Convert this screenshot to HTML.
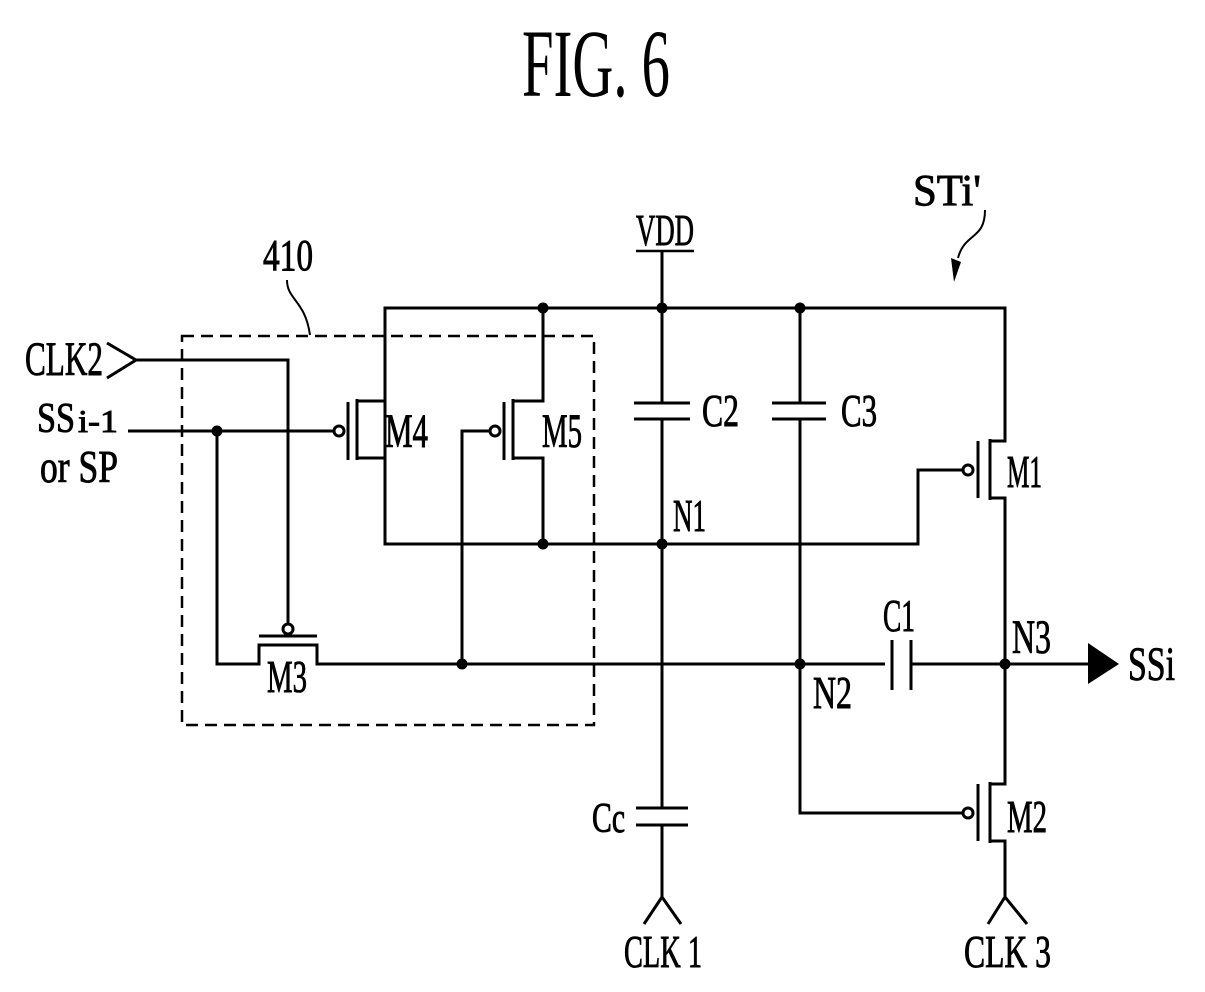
<!DOCTYPE html>
<html><head><meta charset="utf-8"><style>
html,body{margin:0;padding:0;background:#fff;}
svg{display:block;}
text{font-family:"Liberation Serif",serif;fill:#000;}
.l{stroke:#000;stroke-width:0.9;}
</style></head><body>
<svg width="1205" height="992" viewBox="0 0 1205 992" xmlns="http://www.w3.org/2000/svg">
<text x="522" y="96" font-size="96" textLength="148" lengthAdjust="spacingAndGlyphs">FIG. 6</text>

<g class="l">
<text x="913" y="205" font-size="44" textLength="68" lengthAdjust="spacingAndGlyphs">STi'</text>
<text x="263" y="270" font-size="44" textLength="50" lengthAdjust="spacingAndGlyphs">410</text>
<text x="636" y="245" font-size="44" textLength="58" lengthAdjust="spacingAndGlyphs">VDD</text>
<text x="25" y="375" font-size="48" textLength="78" lengthAdjust="spacingAndGlyphs">CLK2</text>
<text x="37" y="432" font-size="42" textLength="38" lengthAdjust="spacingAndGlyphs">SS</text>
<text x="78" y="432" font-size="32" textLength="40" lengthAdjust="spacingAndGlyphs">i-1</text>
<text x="40" y="482" font-size="46" textLength="78" lengthAdjust="spacingAndGlyphs">or SP</text>
<text x="385" y="447" font-size="48" textLength="43" lengthAdjust="spacingAndGlyphs">M4</text>
<text x="542" y="447" font-size="48" textLength="40" lengthAdjust="spacingAndGlyphs">M5</text>
<text x="267" y="692" font-size="46" textLength="40" lengthAdjust="spacingAndGlyphs">M3</text>
<text x="702" y="426" font-size="46" textLength="37" lengthAdjust="spacingAndGlyphs">C2</text>
<text x="841" y="426" font-size="46" textLength="36" lengthAdjust="spacingAndGlyphs">C3</text>
<text x="1007" y="487" font-size="46" textLength="35" lengthAdjust="spacingAndGlyphs">M1</text>
<text x="673" y="531" font-size="46" textLength="33" lengthAdjust="spacingAndGlyphs">N1</text>
<text x="883" y="631" font-size="46" textLength="32" lengthAdjust="spacingAndGlyphs">C1</text>
<text x="1012" y="653" font-size="48" textLength="39" lengthAdjust="spacingAndGlyphs">N3</text>
<text x="1128" y="680" font-size="48" textLength="47" lengthAdjust="spacingAndGlyphs">SSi</text>
<text x="813" y="708" font-size="46" textLength="39" lengthAdjust="spacingAndGlyphs">N2</text>
<text x="1007" y="832" font-size="46" textLength="40" lengthAdjust="spacingAndGlyphs">M2</text>
<text x="592" y="832" font-size="42" textLength="33" lengthAdjust="spacingAndGlyphs">Cc</text>
<text x="624" y="967" font-size="46" textLength="78" lengthAdjust="spacingAndGlyphs">CLK 1</text>
<text x="964" y="967" font-size="46" textLength="87" lengthAdjust="spacingAndGlyphs">CLK 3</text>
</g>

<g stroke="#000" stroke-width="3" fill="none">
<line x1="636" y1="251" x2="694" y2="251" stroke-width="2.5"/>
<line x1="662" y1="251" x2="662" y2="308"/>
<polyline points="385,544 385,308 1005,308 1005,441 990,441"/>
<path d="M985,210 C985,240 965,232 958,258" stroke-width="2"/>
<path d="M287,280 C287,300 305,300 310,335" stroke-width="2"/>
<rect x="182" y="336" width="412" height="389" stroke-width="2.5" stroke-dasharray="12,7"/>
<polyline points="107,343 136,360 107,378"/>
<polyline points="136,360 288,360 288,623"/>
<line x1="128" y1="431" x2="334" y2="431"/>
<polyline points="217,431 217,664 259,664 259,645 317,645 317,664 885,664"/>
<line x1="259" y1="636" x2="317" y2="636"/>
<circle cx="288" cy="629" r="5"/>
<polyline points="385,308 385,401 357,401"/>
<line x1="357" y1="399" x2="357" y2="460"/>
<line x1="348" y1="402" x2="348" y2="460"/>
<circle cx="339" cy="431" r="5"/>
<polyline points="357,458 385,458 385,544 918,544 918,470 963,470"/>
<polyline points="543,308 543,401 513,401"/>
<line x1="513" y1="399" x2="513" y2="460"/>
<line x1="504" y1="402" x2="504" y2="460"/>
<circle cx="495" cy="431" r="5"/>
<polyline points="490,431 462,431 462,664"/>
<polyline points="513,458 543,458 543,544"/>
<line x1="662" y1="308" x2="662" y2="403"/>
<line x1="634" y1="403" x2="690" y2="403"/>
<line x1="634" y1="419" x2="690" y2="419"/>
<line x1="662" y1="419" x2="662" y2="808"/>
<line x1="636" y1="808" x2="688" y2="808"/>
<line x1="636" y1="825" x2="688" y2="825"/>
<line x1="662" y1="825" x2="662" y2="897"/>
<polyline points="644,924 662,897 681,924"/>
<line x1="800" y1="308" x2="800" y2="403"/>
<line x1="772" y1="403" x2="826" y2="403"/>
<line x1="772" y1="419" x2="826" y2="419"/>
<polyline points="800,419 800,813 963,813"/>
<line x1="892" y1="640" x2="892" y2="690"/>
<line x1="911" y1="640" x2="911" y2="690"/>
<line x1="911" y1="664" x2="1088" y2="664"/>
<line x1="990" y1="439" x2="990" y2="500"/>
<line x1="978" y1="441" x2="978" y2="498"/>
<circle cx="968" cy="470" r="5"/>
<polyline points="990,498 1005,498 1005,784 990,784"/>
<line x1="990" y1="782" x2="990" y2="843"/>
<line x1="978" y1="784" x2="978" y2="841"/>
<circle cx="968" cy="813" r="5"/>
<polyline points="990,841 1005,841 1005,897"/>
<polyline points="988,924 1005,897 1027,924"/>
</g>
<polygon points="1088,643 1119,664 1088,684" fill="#000"/>
<g fill="#000">
<circle cx="543" cy="308" r="5.5"/>
<circle cx="662" cy="308" r="5.5"/>
<circle cx="800" cy="308" r="5.5"/>
<circle cx="217" cy="431" r="5.5"/>
<circle cx="543" cy="544" r="5.5"/>
<circle cx="662" cy="544" r="5.5"/>
<circle cx="462" cy="664" r="5.5"/>
<circle cx="800" cy="664" r="5.5"/>
<circle cx="1005" cy="664" r="5.5"/>
<polygon points="951,258 961,262 954,282"/>
</g>
</svg>
</body></html>
